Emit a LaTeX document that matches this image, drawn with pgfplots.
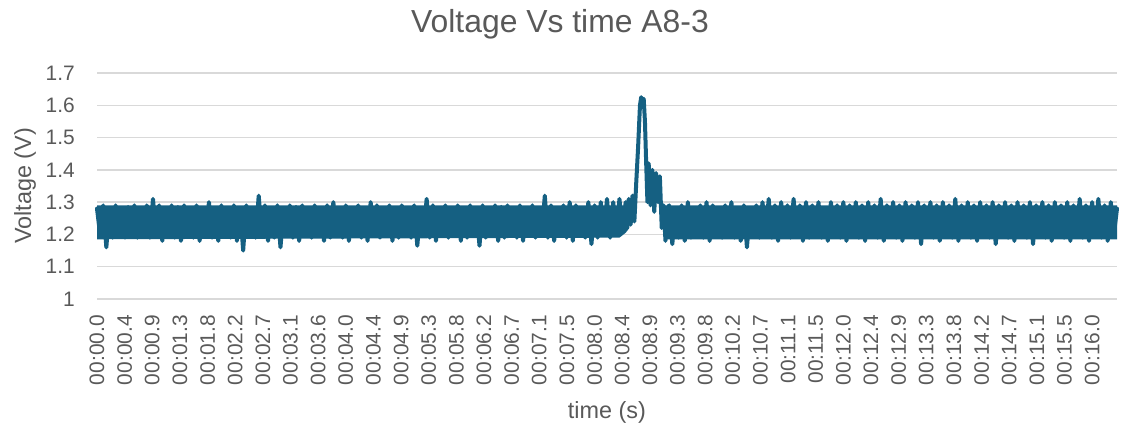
\documentclass[border=0pt]{standalone}
\usepackage{fontspec}
\setmainfont{Liberation Sans}
\usepackage{pgfplots}
\pgfplotsset{compat=1.18}
\definecolor{lineblue}{RGB}{21,96,130}
\definecolor{gridgray}{RGB}{217,217,217}
\definecolor{textgray}{RGB}{89,89,89}
\begin{document}
\begin{tikzpicture}
\useasboundingbox (0,0) rectangle (1139bp,433bp);
\begin{axis}[
  at={(97bp,134bp)}, anchor=south west,
  scale only axis, width=1020bp, height=226bp,
  xmin=0, xmax=16.4, ymin=1, ymax=1.7,
  clip=false,
  axis line style={draw=none},
  major tick length=0pt,
  ymajorgrids, grid style={gridgray, line width=1.3bp},
  ytick={1,1.1,1.2,1.3,1.4,1.5,1.6,1.7},
  yticklabels={1,1.1,1.2,1.3,1.4,1.5,1.6,1.7},
  xtick={0,0.44444,...,16.1},
  xticklabels={00:00.0,00:00.4,00:00.9,00:01.3,00:01.8,00:02.2,00:02.7,00:03.1,00:03.6,00:04.0,00:04.4,00:04.9,00:05.3,00:05.8,00:06.2,00:06.7,00:07.1,00:07.5,00:08.0,00:08.4,00:08.9,00:09.3,00:09.8,00:10.2,00:10.7,00:11.1,00:11.5,00:12.0,00:12.4,00:12.9,00:13.3,00:13.8,00:14.2,00:14.7,00:15.1,00:15.5,00:16.0},
  xticklabel style={rotate=90, anchor=east, inner sep=0pt, font=\fontsize{21}{25}\selectfont, text=textgray},
  xticklabel shift=16bp,
  yticklabel style={anchor=east, inner sep=0pt, font=\fontsize{21}{25}\selectfont, text=textgray},
  yticklabel shift=22bp,
  title={Voltage Vs time A8-3},
  title style={at={(axis description cs:0.4539,1.19)}, anchor=center, font=\fontsize{32}{38}\selectfont, text=textgray},
  xlabel={time (s)},
  xlabel style={at={(axis description cs:0.5,-0.504)}, anchor=center, font=\fontsize{23.5}{28}\selectfont, text=textgray},
  ylabel={Voltage (V)},
  ylabel style={at={(axis description cs:-0.0706,0.5)}, anchor=center, rotate=0, font=\fontsize{23.5}{28}\selectfont, text=textgray},
]
% solid core of the dense noise band (before and after the spike)
\addplot[fill=lineblue, draw=none, forget plot] coordinates {(0,1.185)(8.40,1.19)(8.50,1.205)(8.56,1.22)(8.56,1.29)(0,1.29)};
\addplot[fill=lineblue, draw=none, forget plot] coordinates {(9.12,1.205)(9.17,1.185)(16.4,1.185)(16.4,1.29)(9.12,1.29)};
\addplot[lineblue, line width=4bp, line join=round, line cap=round, mark=none] coordinates {
(0.00,1.28)(0.05,1.20)(0.10,1.29)(0.15,1.16)(0.20,1.28)(0.25,1.19)(0.30,1.29)(0.35,1.20)(0.40,1.28)(0.45,1.19)
(0.50,1.285)(0.55,1.21)(0.60,1.29)(0.65,1.19)(0.70,1.28)(0.75,1.20)(0.80,1.29)(0.85,1.19)(0.90,1.31)(0.95,1.20)
(1.00,1.29)(1.05,1.18)(1.10,1.28)(1.15,1.20)(1.20,1.29)(1.25,1.19)(1.30,1.285)(1.35,1.18)(1.40,1.29)(1.45,1.20)
(1.50,1.27)(1.55,1.19)(1.60,1.29)(1.65,1.18)(1.70,1.28)(1.75,1.20)(1.80,1.30)(1.85,1.19)(1.90,1.28)(1.95,1.18)
(2.00,1.29)(2.05,1.20)(2.10,1.28)(2.15,1.19)(2.20,1.29)(2.25,1.18)(2.30,1.28)(2.35,1.15)(2.40,1.29)(2.45,1.20)
(2.50,1.28)(2.55,1.19)(2.60,1.32)(2.65,1.20)(2.70,1.29)(2.75,1.18)(2.80,1.28)(2.85,1.19)(2.90,1.29)(2.95,1.16)
(3.00,1.28)(3.05,1.20)(3.10,1.29)(3.15,1.19)(3.20,1.285)(3.25,1.18)(3.30,1.29)(3.35,1.20)(3.40,1.28)(3.45,1.19)
(3.50,1.29)(3.55,1.20)(3.60,1.28)(3.65,1.18)(3.70,1.29)(3.75,1.19)(3.80,1.30)(3.85,1.20)(3.90,1.28)(3.95,1.19)
(4.00,1.29)(4.05,1.18)(4.10,1.28)(4.15,1.20)(4.20,1.29)(4.25,1.19)(4.30,1.28)(4.35,1.18)(4.40,1.30)(4.45,1.20)
(4.50,1.29)(4.55,1.19)(4.60,1.28)(4.65,1.20)(4.70,1.29)(4.75,1.18)(4.80,1.28)(4.85,1.19)(4.90,1.29)(4.95,1.20)
(5.00,1.28)(5.05,1.19)(5.10,1.29)(5.15,1.165)(5.20,1.28)(5.25,1.20)(5.30,1.31)(5.35,1.19)(5.40,1.29)(5.45,1.18)
(5.50,1.28)(5.55,1.20)(5.60,1.29)(5.65,1.19)(5.70,1.28)(5.75,1.20)(5.80,1.29)(5.85,1.18)(5.90,1.28)(5.95,1.19)
(6.00,1.29)(6.05,1.20)(6.10,1.28)(6.15,1.165)(6.20,1.29)(6.25,1.19)(6.30,1.28)(6.35,1.20)(6.40,1.29)(6.45,1.18)
(6.50,1.285)(6.55,1.19)(6.60,1.29)(6.65,1.20)(6.70,1.28)(6.75,1.19)(6.80,1.29)(6.85,1.18)(6.90,1.28)(6.95,1.20)
(7.00,1.29)(7.05,1.19)(7.10,1.28)(7.15,1.20)(7.20,1.32)(7.25,1.19)(7.30,1.29)(7.35,1.18)(7.40,1.28)(7.45,1.20)
(7.50,1.29)(7.55,1.19)(7.60,1.30)(7.65,1.18)(7.70,1.29)(7.75,1.20)(7.80,1.28)(7.85,1.19)(7.90,1.30)(7.95,1.17)
(8.00,1.29)(8.05,1.19)(8.10,1.30)(8.15,1.20)(8.20,1.31)(8.25,1.19)(8.30,1.30)(8.35,1.20)(8.40,1.31)(8.45,1.21)
(8.50,1.30)(8.52,1.22)(8.55,1.31)(8.58,1.23)(8.61,1.32)(8.64,1.24)(8.67,1.36)(8.70,1.47)(8.73,1.60)(8.75,1.625)
(8.77,1.61)(8.79,1.62)(8.81,1.55)(8.83,1.42)(8.85,1.30)(8.87,1.42)(8.90,1.29)(8.93,1.40)(8.96,1.27)(8.99,1.39)
(9.02,1.30)(9.05,1.38)(9.08,1.22)(9.11,1.29)(9.14,1.18)(9.17,1.28)(9.20,1.29)(9.25,1.17)(9.30,1.28)(9.35,1.19)
(9.40,1.29)(9.45,1.18)(9.50,1.30)(9.55,1.19)(9.60,1.28)(9.65,1.20)(9.70,1.29)(9.75,1.19)(9.80,1.30)(9.85,1.18)
(9.90,1.29)(9.95,1.20)(10.00,1.28)(10.05,1.19)(10.10,1.29)(10.15,1.20)(10.20,1.30)(10.25,1.19)(10.30,1.28)(10.35,1.18)
(10.40,1.29)(10.45,1.16)(10.50,1.28)(10.55,1.20)(10.60,1.29)(10.65,1.19)(10.70,1.30)(10.75,1.20)(10.80,1.31)(10.85,1.19)
(10.90,1.29)(10.95,1.18)(11.00,1.30)(11.05,1.20)(11.10,1.29)(11.15,1.19)(11.20,1.31)(11.25,1.20)(11.30,1.29)(11.35,1.18)
(11.40,1.30)(11.45,1.19)(11.50,1.29)(11.55,1.20)(11.60,1.30)(11.65,1.19)(11.70,1.28)(11.75,1.18)(11.80,1.30)(11.85,1.20)
(11.90,1.29)(11.95,1.19)(12.00,1.30)(12.05,1.18)(12.10,1.29)(12.15,1.20)(12.20,1.30)(12.25,1.19)(12.30,1.29)(12.35,1.18)
(12.40,1.30)(12.45,1.20)(12.50,1.29)(12.55,1.19)(12.60,1.31)(12.65,1.18)(12.70,1.29)(12.75,1.20)(12.80,1.30)(12.85,1.19)
(12.90,1.29)(12.95,1.18)(13.00,1.30)(13.05,1.20)(13.10,1.29)(13.15,1.19)(13.20,1.30)(13.25,1.17)(13.30,1.29)(13.35,1.20)
(13.40,1.30)(13.45,1.19)(13.50,1.29)(13.55,1.18)(13.60,1.30)(13.65,1.20)(13.70,1.29)(13.75,1.19)(13.80,1.31)(13.85,1.18)
(13.90,1.29)(13.95,1.20)(14.00,1.30)(14.05,1.19)(14.10,1.29)(14.15,1.18)(14.20,1.30)(14.25,1.20)(14.30,1.29)(14.35,1.19)
(14.40,1.30)(14.45,1.17)(14.50,1.29)(14.55,1.20)(14.60,1.30)(14.65,1.19)(14.70,1.29)(14.75,1.18)(14.80,1.30)(14.85,1.20)
(14.90,1.29)(14.95,1.19)(15.00,1.30)(15.05,1.17)(15.10,1.29)(15.15,1.20)(15.20,1.30)(15.25,1.19)(15.30,1.29)(15.35,1.18)
(15.40,1.30)(15.45,1.20)(15.50,1.29)(15.55,1.19)(15.60,1.30)(15.65,1.18)(15.70,1.29)(15.75,1.20)(15.80,1.31)(15.85,1.19)
(15.90,1.29)(15.95,1.18)(16.00,1.30)(16.05,1.20)(16.10,1.31)(16.15,1.19)(16.20,1.29)(16.25,1.18)(16.30,1.30)(16.35,1.20)
(16.40,1.28)
};
\end{axis}
\end{tikzpicture}
\end{document}
